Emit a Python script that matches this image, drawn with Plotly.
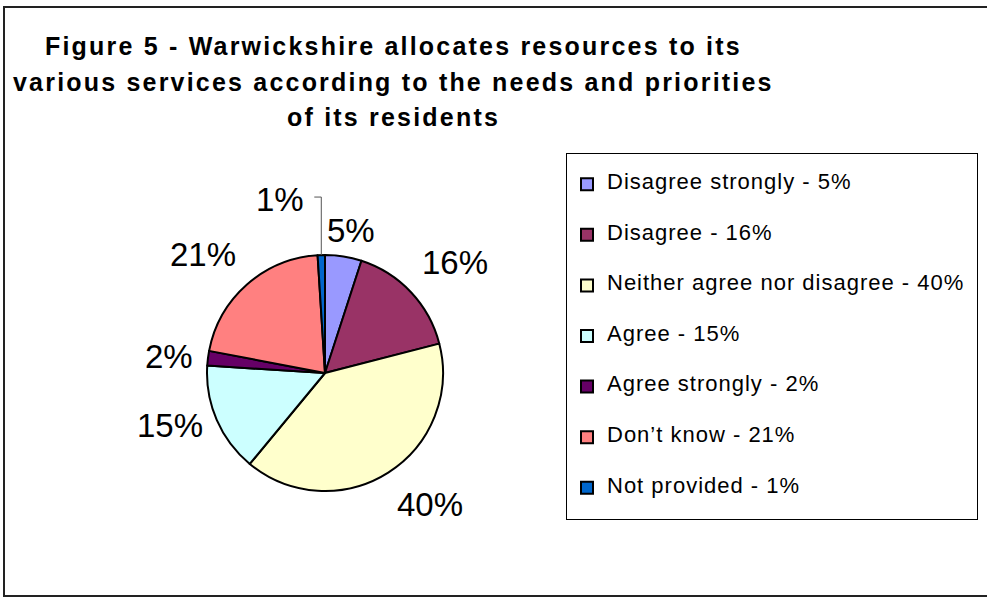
import math
import plotly.graph_objects as go

categories = ["Disagree strongly", "Disagree", "Neither agree nor disagree",
              "Agree", "Agree strongly", "Don\u2019t know", "Not provided"]
values = [5, 16, 40, 15, 2, 21, 1]
colors = ["#9999FF", "#993366", "#FFFFCC", "#CCFFFF", "#660066", "#FF8080", "#0066CC"]
title_lines = ["Figure 5 - Warwickshire allocates resources to its",
               "various services according to the needs and priorities",
               "of its residents"]

W, H = 987, 597
CX, CY, R = 325, 373, 118  # pie centre / radius in pixels
FONT = "Liberation Sans, Arial, sans-serif"


def px(x):
    return x / W


def py(y):
    return 1 - y / H


legend_labels = [
    "<br><span style='font-size:22px;letter-spacing:1.0px'>%s - %d%%&nbsp;</span><br>" % (c, v)
    for c, v in zip(categories, values)
]

fig = go.Figure(go.Pie(
    labels=legend_labels,
    values=values,
    sort=False,
    direction="clockwise",
    rotation=0,
    textinfo="none",
    hoverinfo="skip",
    marker=dict(colors=colors, line=dict(color="black", width=2)),
    domain=dict(x=[px(CX - R), px(CX + R)], y=[py(CY + R), py(CY - R)]),
    showlegend=True,
))

annotations = []
shapes = []
total = sum(values)
cum = 0
GAP = 13
LABEL_FONT = dict(family=FONT, size=33, color="black")
for v in values:
    mid = (cum + v / 2) / total * 2 * math.pi
    cum += v
    s, c = math.sin(mid), math.cos(mid)
    txt = "%d%%" % v
    if v < 2:
        # small slice: label lifted with a leader line
        ex, ey = CX + R * s, CY - R * c
        top = ey - 58
        shapes.append(dict(type="line", xref="paper", yref="paper",
                           x0=px(ex), y0=py(ey), x1=px(ex), y1=py(top),
                           line=dict(color="#555555", width=1)))
        shapes.append(dict(type="line", xref="paper", yref="paper",
                           x0=px(ex), y0=py(top), x1=px(ex - 7), y1=py(top),
                           line=dict(color="#555555", width=1)))
        annotations.append(dict(x=px(ex - 15), y=py(top + 2), xref="paper", yref="paper",
                                text=txt, showarrow=False, xanchor="right", yanchor="middle",
                                font=LABEL_FONT))
        continue
    lx = CX + (R + GAP) * s
    ly = CY - (R + GAP) * c
    xa = "left" if s > 0.3 else ("right" if s < -0.3 else "center")
    ya = "bottom" if c > 0.3 else ("top" if c < -0.5 else "middle")
    if ya == "bottom" and xa == "center":
        ly += 7
        lx += 6
    annotations.append(dict(x=px(lx), y=py(ly), xref="paper", yref="paper",
                            text=txt, showarrow=False, xanchor=xa, yanchor=ya,
                            font=LABEL_FONT))

title_y = [46, 82, 117]
for t, yy in zip(title_lines, title_y):
    annotations.append(dict(x=px(393), y=py(yy), xref="paper", yref="paper",
                            text="<span style='letter-spacing:2.2px'><b>%s</b></span>" % t,
                            showarrow=False, xanchor="center", yanchor="middle",
                            font=dict(family=FONT, size=25, color="black")))

# outer chart border
shapes.append(dict(type="rect", xref="paper", yref="paper",
                   x0=px(4), y0=py(596), x1=px(W + 10), y1=py(7),
                   line=dict(color="#222222", width=2)))

fig.update_layout(
    width=W, height=H,
    margin=dict(l=0, r=0, t=0, b=0),
    paper_bgcolor="white",
    plot_bgcolor="white",
    annotations=annotations,
    shapes=shapes,
    legend=dict(
        x=px(566), y=py(153), xanchor="left", yanchor="top",
        bordercolor="black", borderwidth=1, bgcolor="white",
        font=dict(family=FONT, size=12.2, color="black"),
        traceorder="normal",
    ),
)

fig.write_html("out.html")
